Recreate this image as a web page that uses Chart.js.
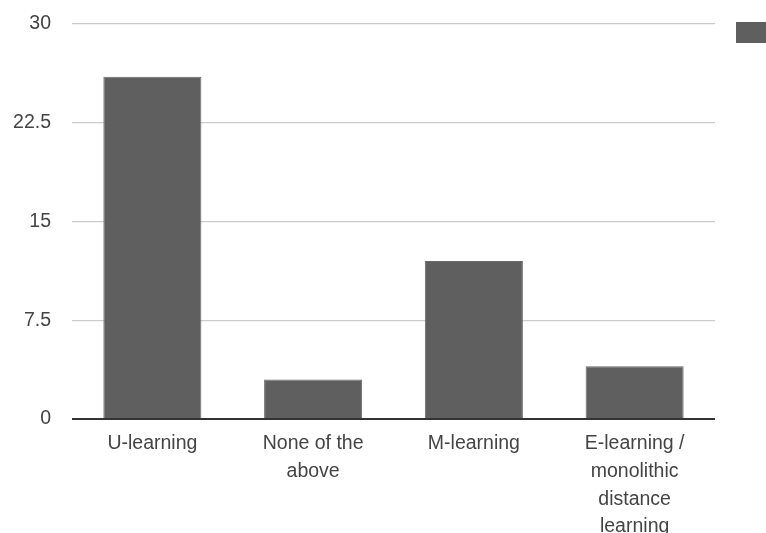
<!DOCTYPE html>
<html>
<head>
<meta charset="utf-8">
<style>
  html, body { margin: 0; padding: 0; background: #ffffff; overflow: hidden; }
  #wrap { width: 766px; height: 533px; position: relative; }
</style>
<script src="https://cdn.jsdelivr.net/npm/chart.js@4/dist/chart.umd.min.js"></script>
</head>
<body>
<div id="wrap"><canvas id="chart" width="766" height="533"></canvas></div>
<script>
// Learning approach categories and response counts
const categories = [
  'U-learning',
  ['None of the', 'above'],
  'M-learning',
  ['E-learning /', 'monolithic', 'distance', 'learning']
];
const counts = [26, 3, 12, 4];
const yTicks = [0, 7.5, 15, 22.5, 30];

const barColor = '#5f5f5f';

// Small legend swatch at the top right, clipped by the canvas edge
const swatchPlugin = {
  id: 'swatch',
  afterDraw(chart) {
    const ctx = chart.ctx;
    ctx.save();
    ctx.fillStyle = chart.data.datasets[0].backgroundColor;
    ctx.fillRect(736, 22, 40, 21);
    ctx.restore();
  }
};

Chart.defaults.font.family = '"Liberation Sans", Arial, sans-serif';
Chart.defaults.font.size = 19.5;
Chart.defaults.color = '#444444';

new Chart(document.getElementById('chart'), {
  type: 'bar',
  data: {
    labels: categories,
    datasets: [{
      label: 'Count',
      data: counts,
      backgroundColor: barColor,
      borderColor: '#6a6a6a',
      borderWidth: 1,
      barPercentage: 0.61,
      categoryPercentage: 1.0
    }]
  },
  options: {
    responsive: false,
    animation: false,
    layout: { padding: { top: 24, right: 51, left: 0, bottom: 0 } },
    plugins: {
      legend: { display: false },
      tooltip: { enabled: false }
    },
    scales: {
      x: {
        grid: { display: false, drawTicks: false },
        border: { display: false },
        ticks: {
          padding: 11,
          maxRotation: 0,
          autoSkip: false,
          color: '#444444',
          font: { size: 19.5, lineHeight: 1.42 }
        },
        afterFit(scale) { scale.height = 114; }
      },
      y: {
        min: 0,
        max: 30,
        afterBuildTicks(scale) {
          scale.ticks = yTicks.map(v => ({ value: v }));
        },
        grid: {
          drawTicks: false,
          color: ctx => (ctx.tick && ctx.tick.value === 0 ? '#333333' : '#cccccc'),
          lineWidth: ctx => (ctx.tick && ctx.tick.value === 0 ? 2 : 1.3)
        },
        border: { display: false },
        ticks: {
          padding: 21,
          color: '#444444',
          font: { size: 19.5 },
          callback: v => String(v)
        },
        afterFit(scale) {
          scale.width = 72;
          scale.paddingTop = 0;
          scale.paddingBottom = 0;
        }
      }
    }
  },
  plugins: [swatchPlugin]
});
</script>
</body>
</html>
